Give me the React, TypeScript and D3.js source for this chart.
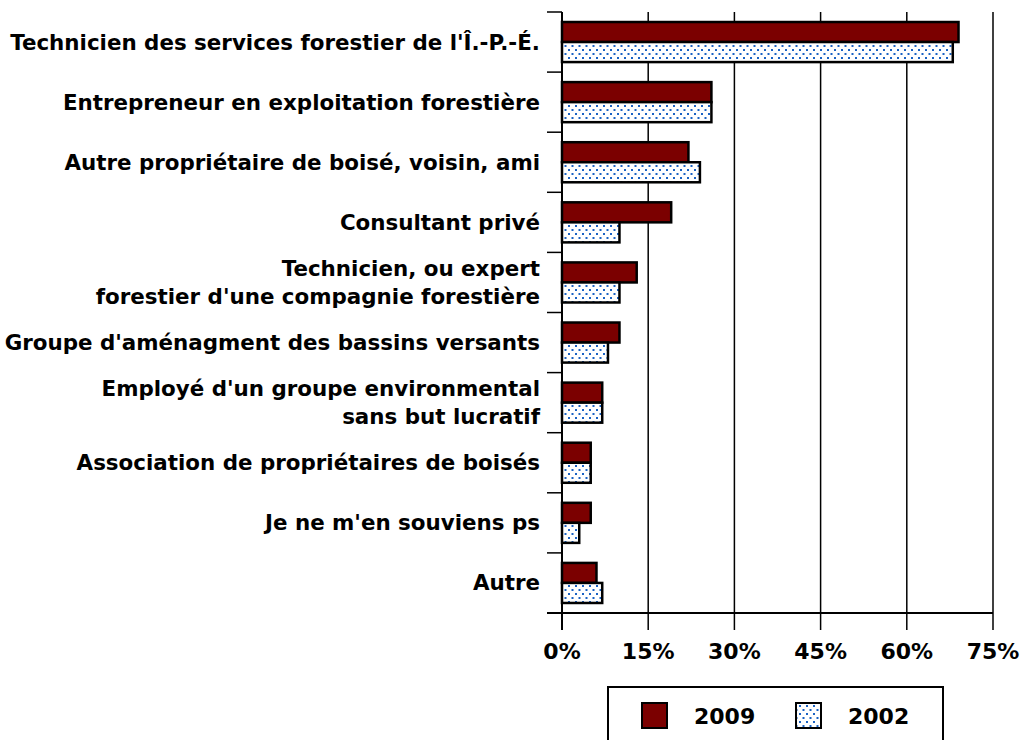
import * as d3 from 'd3';

const categories = [
  "Technicien des services forestier de l'Î.-P.-É.",
  'Entrepreneur en exploitation forestière',
  'Autre propriétaire de boisé, voisin, ami',
  'Consultant privé',
  "Technicien, ou expert\nforestier d'une compagnie forestière",
  "Groupe d'aménagment des bassins versants",
  "Employé d'un groupe environmental\nsans but lucratif",
  'Association de propriétaires de boisés',
  "Je ne m'en souviens ps",
  'Autre',
];
const values2009 = [69, 26, 22, 19, 13, 10, 7, 5, 5, 6];
const values2002 = [68, 26, 24, 10, 10, 8, 7, 5, 3, 7];
const xTicks = [0, 15, 30, 45, 60, 75];

const FONT = "'DejaVu Sans', Verdana, sans-serif";
const RED = '#7b0000';
const DOT = '#1a62c4';

export default function App() {
  const left = 562;
  const right = 993;
  const top = 12;
  const bottom = 613;

  const x = d3.scaleLinear().domain([0, 75]).range([left, right]);
  const y = d3.scaleBand().domain(categories).range([top, bottom]);
  const bw = y.bandwidth();
  const barH = bw / 3;

  return (
    <svg width={1024} height={740} style={{ position: 'absolute', left: 0, top: 0 }}>
      <defs>
        <pattern id="dots" width={7} height={8} patternUnits="userSpaceOnUse">
          <rect width={7} height={8} fill="#fff" />
          <rect x={1} y={1} width={2} height={2} fill={DOT} />
          <rect x={4.5} y={5} width={2} height={2} fill={DOT} />
        </pattern>
      </defs>
      <rect width={1024} height={740} fill="#fff" />

      {/* grid lines */}
      {xTicks.map((t) => (
        <line key={t} x1={x(t)} x2={x(t)} y1={top} y2={bottom + 17} stroke="#000" strokeWidth={1.5} />
      ))}

      {/* bars */}
      {categories.map((c, i) => {
        const y0 = (y(c) as number) + bw / 6;
        return (
          <g key={c}>
            <rect x={x(0)} y={y0} width={x(values2009[i]) - x(0)} height={barH}
              fill={RED} stroke="#000" strokeWidth={2.5} />
            <rect x={x(0)} y={y0 + barH} width={x(values2002[i]) - x(0)} height={barH}
              fill="url(#dots)" stroke="#000" strokeWidth={2.5} />
          </g>
        );
      })}

      {/* axes */}
      <line x1={left} x2={left} y1={top} y2={bottom + 17} stroke="#000" strokeWidth={2} />
      <line x1={left - 15} x2={right} y1={bottom} y2={bottom} stroke="#000" strokeWidth={2} />
      {categories.map((c) => (
        <line key={c} x1={left - 15} x2={left} y1={y(c)} y2={y(c)} stroke="#000" strokeWidth={1.5} />
      ))}

      {/* category labels */}
      {categories.map((c) => {
        const lines = c.split('\n');
        const cy = (y(c) as number) + bw / 2;
        return (
          <text key={c} x={540} textAnchor="end" fontFamily={FONT} fontWeight="bold" fontSize={21.4} fill="#000">
            {lines.map((l, j) => (
              <tspan key={j} x={540} y={cy + (j - (lines.length - 1) / 2) * 28} dy="0.35em">{l}</tspan>
            ))}
          </text>
        );
      })}

      {/* tick labels */}
      {xTicks.map((t) => (
        <text key={t} x={x(t)} y={651} dy="0.35em" textAnchor="middle" fontFamily={FONT}
          fontWeight="bold" fontSize={22} fill="#000">{t}%</text>
      ))}

      {/* legend */}
      <rect x={608} y={687} width={335} height={60} fill="#fff" stroke="#000" strokeWidth={2} />
      <rect x={642} y={703} width={25} height={25} fill={RED} stroke="#000" strokeWidth={2} />
      <text x={694} y={716} dy="0.35em" fontFamily={FONT} fontWeight="bold" fontSize={22}>2009</text>
      <rect x={796} y={703} width={25} height={25} fill="url(#dots)" stroke="#000" strokeWidth={2} />
      <text x={848} y={716} dy="0.35em" fontFamily={FONT} fontWeight="bold" fontSize={22}>2002</text>
    </svg>
  );
}
